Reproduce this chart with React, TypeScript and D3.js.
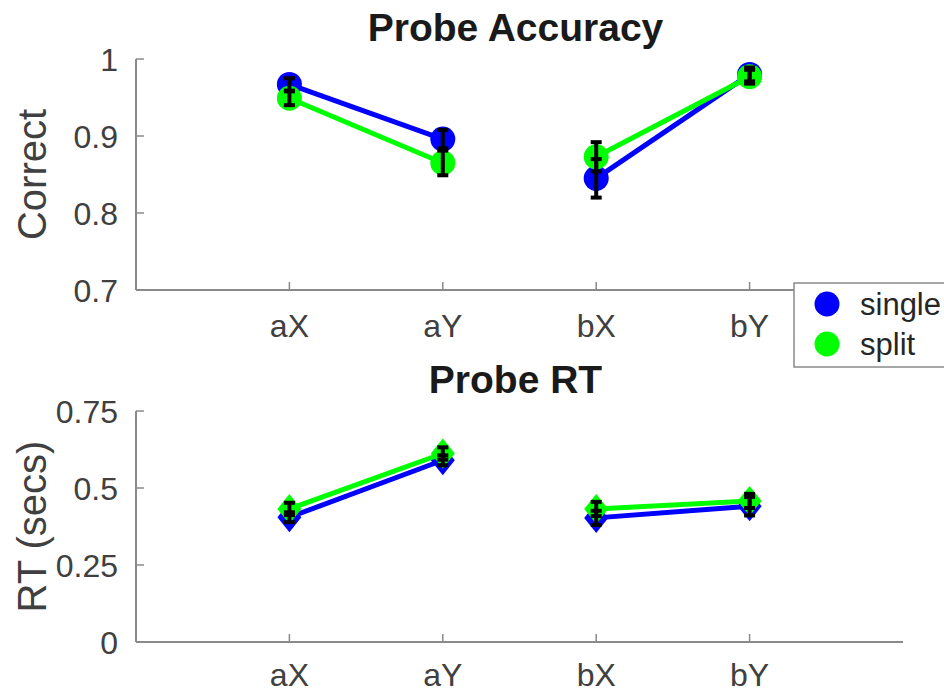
import React, { useEffect, useRef } from 'react';
import * as d3 from 'd3';

// conditions on the x axis; lines join aX-aY and bX-bY
const conditions = ['aX', 'aY', 'bX', 'bY'];
const segments = [[0, 1], [2, 3]];
const seriesNames = ['single', 'split'];
const seriesColors = ['#0000ff', '#00ff00'];

// probe accuracy (proportion correct) and standard error
const accSingle = [0.967, 0.896, 0.845, 0.98];
const accSingleErr = [0.008, 0.012, 0.025, 0.009];
const accSplit = [0.949, 0.865, 0.873, 0.977];
const accSplitErr = [0.009, 0.016, 0.019, 0.009];

// probe RT (secs) and standard error
const rtSingle = [0.405, 0.59, 0.403, 0.441];
const rtSingleErr = [0.016, 0.016, 0.023, 0.03];
const rtSplit = [0.432, 0.612, 0.432, 0.458];
const rtSplitErr = [0.02, 0.02, 0.023, 0.023];

const accTicks = [0.7, 0.8, 0.9, 1];
const rtTicks = [0, 0.25, 0.5, 0.75];

const FONT = '"Liberation Sans", Arial, Helvetica, sans-serif';
const AXIS_COLOR = '#8a8a8a';
const TEXT_COLOR = '#404040';

const App = () => {
  const ref = useRef<SVGSVGElement>(null);

  useEffect(() => {
    const svg = d3.select(ref.current);
    svg.selectAll('*').remove();

    // shared x scale: categories sit at 1..4 on a 0..5 axis
    const x = d3.scaleLinear().domain([0, 5]).range([136, 903]);

    const drawPanel = (opts: any) => {
      const { y, ticks, fmt, title, titleY, ylabel, shape, series, xLabelY } = opts;
      const g = svg.append('g');
      const [y0, y1] = y.range();

      // axis lines
      g.append('line').attr('x1', x(0)).attr('x2', x(0)).attr('y1', y0).attr('y2', y1)
        .attr('stroke', AXIS_COLOR).attr('stroke-width', 2);
      g.append('line').attr('x1', x(0)).attr('x2', x(5)).attr('y1', y0).attr('y2', y0)
        .attr('stroke', AXIS_COLOR).attr('stroke-width', 2);

      // y ticks (inward)
      ticks.forEach((t: number) => {
        g.append('line').attr('x1', x(0)).attr('x2', x(0) + 8).attr('y1', y(t)).attr('y2', y(t))
          .attr('stroke', AXIS_COLOR).attr('stroke-width', 1.5);
        g.append('text').attr('x', x(0) - 18).attr('y', y(t)).attr('dy', '0.36em')
          .attr('text-anchor', 'end').attr('font-size', 32).attr('fill', TEXT_COLOR)
          .text(fmt(t));
      });

      // x ticks (inward)
      conditions.forEach((c, i) => {
        g.append('line').attr('x1', x(i + 1)).attr('x2', x(i + 1)).attr('y1', y0).attr('y2', y0 - 8)
          .attr('stroke', AXIS_COLOR).attr('stroke-width', 1.5);
        g.append('text').attr('x', x(i + 1)).attr('y', xLabelY)
          .attr('text-anchor', 'middle').attr('font-size', 32).attr('fill', TEXT_COLOR)
          .text(c);
      });

      // title + y label
      g.append('text').attr('x', (x(0) + x(5)) / 2 - 4).attr('y', titleY)
        .attr('text-anchor', 'middle').attr('font-size', 39).attr('font-weight', 'bold')
        .attr('fill', '#1a1a1a').text(title);
      g.append('text')
        .attr('transform', 'translate(46,' + (y0 + y1) / 2 + ') rotate(-90)')
        .attr('text-anchor', 'middle').attr('font-size', 40).attr('fill', TEXT_COLOR)
        .text(ylabel);

      // lines + markers, single first so split sits on top
      series.forEach((s: any, k: number) => {
        segments.forEach(seg => {
          g.append('line')
            .attr('x1', x(seg[0] + 1)).attr('y1', y(s.vals[seg[0]]))
            .attr('x2', x(seg[1] + 1)).attr('y2', y(s.vals[seg[1]]))
            .attr('stroke', seriesColors[k]).attr('stroke-width', 5);
        });
        if (shape === 'circle') {
          g.selectAll('.m' + k).data(s.vals).enter().append('circle')
            .attr('cx', (d, i) => x(i + 1)).attr('cy', (d: any) => y(d)).attr('r', 12.5)
            .attr('fill', seriesColors[k]);
        } else {
          g.selectAll('.m' + k).data(s.vals).enter().append('path')
            .attr('d', (d: any, i) => {
              const cx = x(i + 1), cy = y(d);
              return `M${cx},${cy - 15}L${cx + 12},${cy}L${cx},${cy + 15}L${cx - 12},${cy}Z`;
            })
            .attr('fill', seriesColors[k]);
        }
      });

      // error bars on top
      series.forEach((s: any) => {
        s.vals.forEach((v: number, i: number) => {
          const cx = x(i + 1);
          const top = y(v + s.err[i]), bot = y(v - s.err[i]);
          g.append('line').attr('x1', cx).attr('x2', cx).attr('y1', top).attr('y2', bot)
            .attr('stroke', '#000').attr('stroke-width', 4);
          [top, bot].forEach(yy => {
            g.append('line').attr('x1', cx - 5.5).attr('x2', cx + 5.5).attr('y1', yy).attr('y2', yy)
              .attr('stroke', '#000').attr('stroke-width', 4);
          });
        });
      });
    };

    drawPanel({
      y: d3.scaleLinear().domain([0.7, 1]).range([290, 59]),
      ticks: accTicks,
      fmt: (t: number) => (t === 1 ? '1' : d3.format('.1f')(t)),
      title: 'Probe Accuracy',
      titleY: 41,
      ylabel: 'Correct',
      shape: 'circle',
      xLabelY: 337,
      series: [
        { vals: accSingle, err: accSingleErr },
        { vals: accSplit, err: accSplitErr },
      ],
    });

    drawPanel({
      y: d3.scaleLinear().domain([0, 0.75]).range([642, 411]),
      ticks: rtTicks,
      fmt: (t: number) => (t === 0 ? '0' : String(t)),
      title: 'Probe RT',
      titleY: 393,
      ylabel: 'RT (secs)',
      shape: 'diamond',
      xLabelY: 686,
      series: [
        { vals: rtSingle, err: rtSingleErr },
        { vals: rtSplit, err: rtSplitErr },
      ],
    });

    // legend
    const legend = svg.append('g');
    legend.append('rect').attr('x', 794).attr('y', 283).attr('width', 170).attr('height', 84)
      .attr('fill', '#fff').attr('stroke', AXIS_COLOR).attr('stroke-width', 1.5);
    seriesNames.forEach((name, i) => {
      legend.append('circle').attr('cx', 827).attr('cy', 304 + i * 40).attr('r', 12.5)
        .attr('fill', seriesColors[i]);
      legend.append('text').attr('x', 860).attr('y', 304 + i * 40).attr('dy', '0.36em')
        .attr('font-size', 31).attr('fill', '#262626').text(name);
    });
  }, []);

  return (
    <div style={{ position: 'absolute', left: 0, top: 0 }}>
      <svg ref={ref} width={944} height={694} fontFamily={FONT} style={{ display: 'block', background: '#fff' }} />
    </div>
  );
};

export default App;
